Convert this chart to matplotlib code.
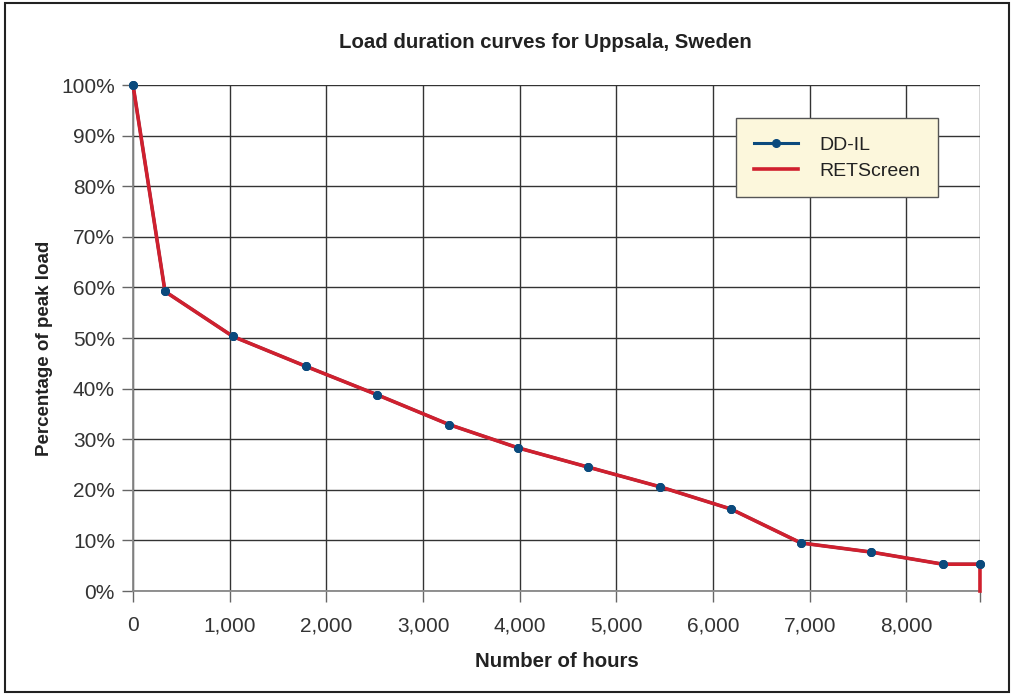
import matplotlib
matplotlib.use('Agg')
import matplotlib.pyplot as plt
from matplotlib.patches import Rectangle
from matplotlib.ticker import FuncFormatter

# hours vs percentage of peak load
hours = [0, 331, 1034, 1789, 2523, 3268, 3981, 4705, 5450, 6184, 6908, 7632, 8376, 8760]
ddil = [100, 59.2, 50.3, 44.4, 38.8, 32.9, 28.3, 24.5, 20.6, 16.2, 9.5, 7.7, 5.3, 5.3]
ret_hours = [0, 331, 1034, 1789, 2523, 3268, 3981, 4705, 5450, 6184, 6908, 7632, 8376, 8760, 8760]
retscreen = [100, 59.2, 50.3, 44.4, 38.8, 32.9, 28.3, 24.5, 20.6, 16.2, 9.5, 7.7, 5.3, 5.3, 0]
x_ticks = [0, 1000, 2000, 3000, 4000, 5000, 6000, 7000, 8000]
y_ticks = [0, 10, 20, 30, 40, 50, 60, 70, 80, 90, 100]

blue = '#0b4a7d'
red = '#d0202e'
plt.rcParams['font.family'] = ['Liberation Sans', 'DejaVu Sans']

fig = plt.figure(figsize=(10.13, 6.94), dpi=100)
ax = fig.add_axes([0.1313, 0.1484, 0.8361, 0.7291])

# outer frame round the whole figure
fig.patches.append(Rectangle((0.005, 0.003), 0.991, 0.993, transform=fig.transFigure,
                             fill=False, edgecolor='#222222', linewidth=1.5))

line_dd, = ax.plot(hours, ddil, color=blue, linewidth=2.2, marker='o', markersize=5.5,
                   zorder=3, clip_on=False, label='DD-IL')
line_ret, = ax.plot(ret_hours, retscreen, color=red, linewidth=2.6, zorder=4,
                    clip_on=False, label='RETScreen')
ax.plot(hours, ddil, linestyle='none', marker='o', markersize=5.5, color=blue,
        zorder=5, clip_on=False)

ax.set_xlim(0, 8760)
ax.set_ylim(0, 100)
ax.set_xticks(x_ticks + [8760])
ax.set_xticklabels([f'{t:,}' for t in x_ticks] + [''])
ax.set_yticks(y_ticks)
ax.yaxis.set_major_formatter(FuncFormatter(lambda v, p: f'{v:.0f}%'))
ax.grid(True, color='#333333', linewidth=1.0, zorder=1)
ax.set_axisbelow(True)
for s in ['top', 'right']:
    ax.spines[s].set_visible(False)
for s in ['left', 'bottom']:
    ax.spines[s].set_color('#888888')
    ax.spines[s].set_linewidth(1.3)
ax.tick_params(direction='out', length=8, width=1, color='#666666',
               labelsize=15, labelcolor='#333333')
ax.tick_params(axis='x', pad=10)
ax.tick_params(axis='y', pad=5)

# title sits a bit left of the axes centre in the original
fig.text(545 / 1013, 1 - 43 / 694, 'Load duration curves for Uppsala, Sweden', fontsize=14.7,
         fontweight='bold', color='#222222', ha='center', va='center')
ax.set_xlabel('Number of hours', fontsize=14.7, fontweight='bold', color='#222222', labelpad=12)
ax.set_ylabel('Percentage of peak load', fontsize=13.5, fontweight='bold', color='#222222')
ax.yaxis.set_label_coords(-0.0945, 0.48)

leg = ax.legend(handles=[line_dd, line_ret], loc='upper left', bbox_to_anchor=(0.712, 0.934),
                fontsize=14, frameon=True, fancybox=False, borderpad=0.9,
                handlelength=2.3, handletextpad=1.1, labelspacing=0.45, borderaxespad=0)
leg.get_frame().set_facecolor('#fcf7dc')
leg.get_frame().set_edgecolor('#555555')
leg.get_frame().set_alpha(1)
for t in leg.get_texts():
    t.set_color('#222222')

fig.savefig('out.png', dpi=100)
